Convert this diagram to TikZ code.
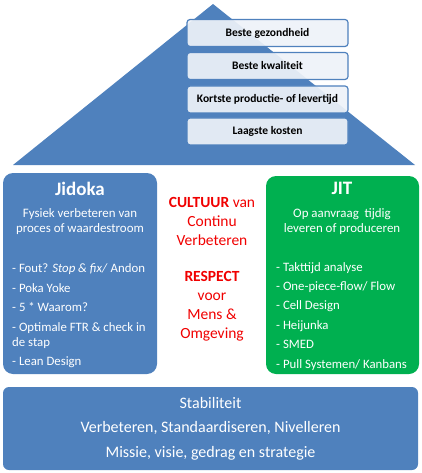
\documentclass[tikz,border=0pt]{standalone}
\usepackage{fontspec}
\setmainfont{Carlito}
\usepackage{tikz}
\usetikzlibrary{positioning}
\definecolor{steel}{HTML}{4F81BD}
\definecolor{jitgreen}{HTML}{00B050}
\definecolor{goalfill}{HTML}{EEF2F8}
\definecolor{cultred}{HTML}{F00000}

\begin{document}
\begin{tikzpicture}[
  x=1pt, y=-1pt,
  goal/.style={draw=steel, line width=1.2pt, fill=goalfill, fill opacity=0.92,
               text opacity=1, rounded corners=3pt, minimum width=161pt,
               minimum height=27pt, inner sep=0pt,
               font=\fontsize{11.5}{13}\selectfont\bfseries},
  pillar/.style={rounded corners=10pt, inner sep=0pt},
  title/.style={text=white, font=\fontsize{19}{22}\selectfont\bfseries},
  sub/.style={text=white, align=center, font=\fontsize{12.9}{15}\selectfont},
  items/.style={text=white, align=left, anchor=north west, inner sep=0pt,
                font=\fontsize{12.8}{15}\selectfont},
  culture/.style={text=cultred, align=center, font=\fontsize{15.5}{19}\selectfont},
]
\useasboundingbox (0,0) rectangle (422,473);

% roof
\fill[steel] (13,165) -- (213,4) -- (415,165) -- cycle;
\node[goal] (health)  at (267.5,33)  {Beste gezondheid};
\node[goal] (quality) at (267.5,66)  {Beste kwaliteit};
\node[goal] (lead)    at (267.5,99.5) {Kortste productie- of levertijd};
\node[goal] (cost)    at (267.5,131.5) {Laagste kosten};

% pillars
\node[pillar, fill=steel, minimum width=154pt, minimum height=201pt] (jidoka) at (80,273.5) {};
\node[title] (jidokatitle) at (80,189) {Jidoka};
\node[sub] (jidokasub) at (80,222) {Fysiek verbeteren van\\proces of waardestroom};
\node[items] (jidokalist) at (12,263.5) {- Fout? \textit{Stop \& fix/} Andon\\[4.5pt]
  - Poka Yoke\\[4.5pt]
  - 5 * Waarom?\\[4.5pt]
  - Optimale FTR \& check in\\de stap\\[4.5pt]
  - Lean Design};

\node[pillar, fill=jitgreen, minimum width=153pt, minimum height=198pt] (jit) at (342.5,275) {};
\node[title] (jittitle) at (342,188) {JIT};
\node[sub] (jitsub) at (342,222) {Op aanvraag\ \ tijdig\\leveren of produceren};
\node[items] (jitlist) at (276,262) {- Takttijd analyse\\[4.4pt]
  - One-piece-flow/ Flow\\[4.4pt]
  - Cell Design\\[4.4pt]
  - Heijunka\\[4.4pt]
  - SMED\\[4.4pt]
  - Pull Systemen/ Kanbans};

% centre
\node[culture] (cultuur) at (212,221) {\textbf{CULTUUR} van\\Continu\\Verbeteren};
\node[culture] (respect) at (212,306.5) {\textbf{RESPECT}\\voor\\Mens \&\\Omgeving};

% foundation
\node[pillar, rounded corners=6pt, fill=steel, minimum width=415pt, minimum height=83pt,
      text=white, align=center, font=\fontsize{16}{24.5}\selectfont] (base) at (210.5,428.5)
  {Stabiliteit\\Verbeteren, Standaardiseren, Nivelleren\\Missie, visie, gedrag en strategie};
\end{tikzpicture}
\end{document}
